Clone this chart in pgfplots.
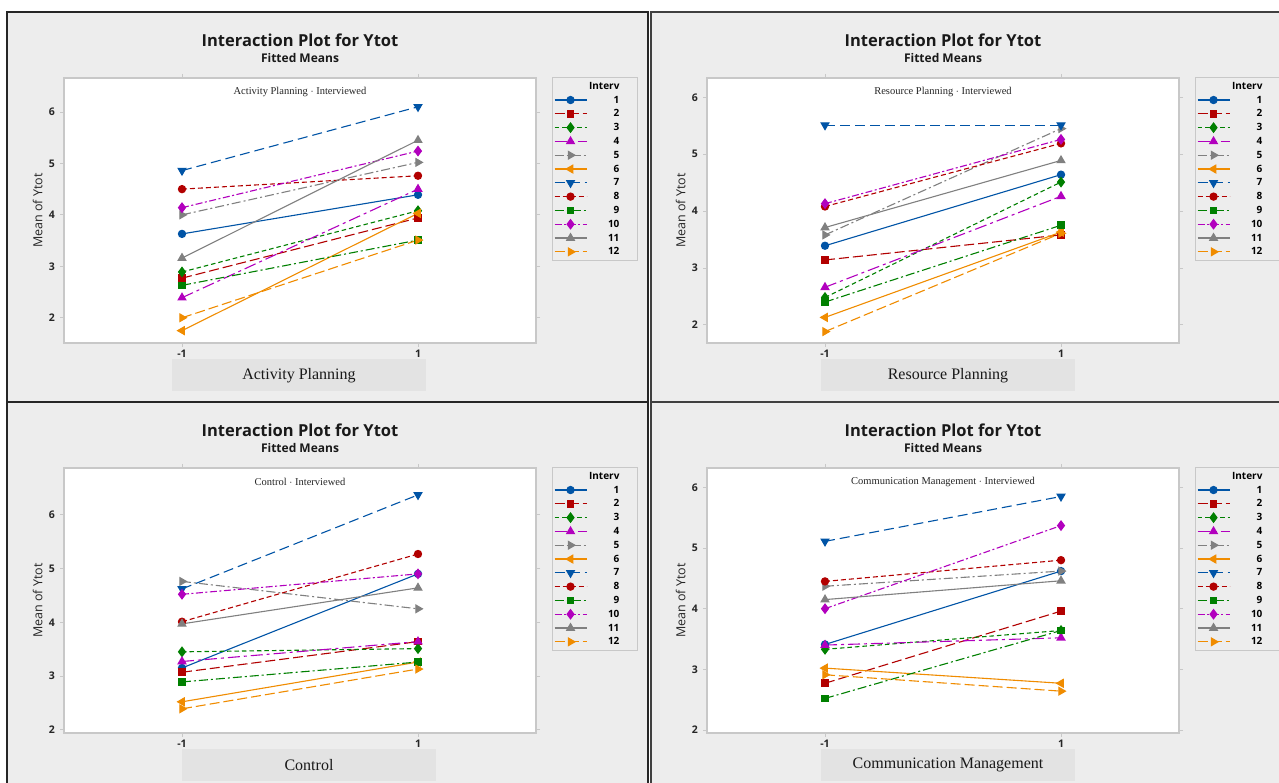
\documentclass[border=0pt]{standalone}
\usepackage{pgfplots}
\pgfplotsset{compat=1.18}
\usepackage{pgfplotstable}
\usepackage{fontspec}
\setmainfont{Liberation Serif}
\newfontfamily\sansf{Open Sans}
\newfontfamily\seriff{Liberation Serif}

\definecolor{cblue}{RGB}{0,84,166}
\definecolor{cred}{RGB}{178,0,0}
\definecolor{cgreen}{RGB}{0,128,0}
\definecolor{cmag}{RGB}{178,0,190}
\definecolor{cgray}{RGB}{128,128,128}
\definecolor{corange}{RGB}{240,140,0}
\definecolor{panelbg}{RGB}{237,237,237}
\definecolor{labelbg}{RGB}{227,227,227}
\definecolor{frameline}{RGB}{200,200,200}

% Activity Planning
\pgfplotstableread{
x s1 s2 s3 s4 s5 s6 s7 s8 s9 s10 s11 s12
-1 3.63 2.77 2.89 2.39 4.00 1.75 4.86 4.50 2.63 4.14 3.16 2.00
1 4.39 3.94 4.08 4.50 5.02 4.03 6.10 4.76 3.51 5.24 5.45 3.51
}\tAP
% Resource Planning
\pgfplotstableread{
x s1 s2 s3 s4 s5 s6 s7 s8 s9 s10 s11 s12
-1 3.39 3.14 2.48 2.66 3.58 2.13 5.51 4.08 2.40 4.13 3.71 1.88
1 4.64 3.58 4.51 4.26 5.45 3.63 5.51 5.19 3.75 5.26 4.89 3.61
}\tRP
% Control
\pgfplotstableread{
x s1 s2 s3 s4 s5 s6 s7 s8 s9 s10 s11 s12
-1 3.15 3.07 3.45 3.27 4.76 2.52 4.62 4.01 2.89 4.52 3.97 2.39
1 4.90 3.64 3.51 3.64 4.25 3.26 6.37 5.27 3.26 4.90 4.64 3.13
}\tCO
% Communication Management
\pgfplotstableread{
x s1 s2 s3 s4 s5 s6 s7 s8 s9 s10 s11 s12
-1 3.41 2.77 3.33 3.40 4.37 3.02 5.11 4.45 2.52 4.00 4.15 2.91
1 4.62 3.96 3.64 3.52 4.62 2.77 5.85 4.80 3.64 5.37 4.46 2.64
}\tCM

\pgfplotsset{
  s1/.style={cblue, solid, mark=*, mark size=3.6pt, mark options={solid}},
  s2/.style={cred, dash pattern=on 10pt off 4pt, mark=square*, mark size=3.3pt, mark options={solid}},
  s3/.style={cgreen, dash pattern=on 4.5pt off 3pt, mark=diamond*, mark size=4.6pt, mark options={solid}},
  s4/.style={cmag, dash pattern=on 12pt off 4pt on 3pt off 4pt, mark=triangle*, mark size=4.4pt, mark options={solid}},
  s5/.style={cgray, dash pattern=on 9pt off 3pt on 2pt off 3pt, mark=triangle*, mark size=4.4pt, mark options={solid, rotate=-90}},
  s6/.style={corange, solid, mark=triangle*, mark size=4.4pt, mark options={solid, rotate=90}},
  s7/.style={cblue, dash pattern=on 10pt off 5pt, mark=triangle*, mark size=4.4pt, mark options={solid, rotate=180}},
  s8/.style={cred, dash pattern=on 5pt off 3pt, mark=*, mark size=3.6pt, mark options={solid}},
  s9/.style={cgreen, dash pattern=on 9pt off 3pt on 2pt off 3pt, mark=square*, mark size=3.3pt, mark options={solid}},
  s10/.style={cmag, dash pattern=on 7pt off 2.5pt on 2pt off 2.5pt, mark=diamond*, mark size=4.6pt, mark options={solid}},
  s11/.style={cgray, solid, mark=triangle*, mark size=4.4pt, mark options={solid}},
  s12/.style={corange, dash pattern=on 10pt off 4pt, mark=triangle*, mark size=4.4pt, mark options={solid, rotate=-90}},
  panel/.style={
    scale only axis, width=472pt, height=265pt, anchor=north west,
    xmin=-2, xmax=2, xtick={-1,1}, ytick={2,3,4,5,6},
    axis line style={frameline, line width=1.2pt},
    tick style={frameline, line width=0.8pt},
    tick align=outside, major tick length=4pt,
    axis background/.style={fill=white},
    /pgf/number format/assume math mode=true,
    tick label style={font=\sansf\bfseries\fontsize{10.5}{12}\selectfont, text=black!85},
    yticklabel style={inner sep=0pt, xshift=-5pt},
    xticklabel style={inner sep=0pt, yshift=-3pt},
    ylabel={Mean of Ytot},
    ylabel style={at={(axis description cs:-0.056,0.5)}, anchor=center,
      font=\sansf\fontsize{12.5}{14}\selectfont, text=black!85},
    xlabel style={at={(axis description cs:0.5,0)}, anchor=north, yshift=-16pt,
      fill=labelbg, draw=none, minimum width=254pt, minimum height=32pt, inner sep=0pt,
      font=\seriff\fontsize{16}{18}\selectfont, text=black!90},
    clip=false,
    every axis plot/.append style={line width=1.1pt},
    legend cell align=right,
    legend style={at={(axis description cs:1.033,1.004)}, anchor=north west,
      draw=frameline, fill=panelbg, line width=0.8pt,
      font=\sansf\bfseries\fontsize{10}{11}\selectfont,
      row sep=0pt, inner xsep=2pt, inner ysep=2pt,
      nodes={text height=7pt, text depth=1pt, inner ysep=2.9pt, inner xsep=2pt}},
    legend image code/.code={\draw[mark repeat=2,mark phase=2,##1] plot coordinates {(0pt,0pt) (16pt,0pt) (32pt,0pt)};},
    legend entries={Interv\hspace*{14pt},1\hspace*{14pt},2\hspace*{14pt},3\hspace*{14pt},4\hspace*{14pt},5\hspace*{14pt},6\hspace*{14pt},7\hspace*{14pt},8\hspace*{14pt},9\hspace*{14pt},10\hspace*{14pt},11\hspace*{14pt},12\hspace*{14pt}},
  }
}

\newcommand{\panel}[8]{%
\begin{axis}[panel, at={(#1pt,#2pt)}, ymin=#4, ymax=#5, xlabel={#7}, xlabel style={xshift=#8pt}]
\addlegendimage{empty legend}
\addplot[s1] table[x=x,y=s1]{#3};
\addplot[s2] table[x=x,y=s2]{#3};
\addplot[s3] table[x=x,y=s3]{#3};
\addplot[s4] table[x=x,y=s4]{#3};
\addplot[s5] table[x=x,y=s5]{#3};
\addplot[s6] table[x=x,y=s6]{#3};
\addplot[s7] table[x=x,y=s7]{#3};
\addplot[s8] table[x=x,y=s8]{#3};
\addplot[s9] table[x=x,y=s9]{#3};
\addplot[s10] table[x=x,y=s10]{#3};
\addplot[s11] table[x=x,y=s11]{#3};
\addplot[s12] table[x=x,y=s12]{#3};
\node[font=\seriff\fontsize{10.5}{12}\selectfont, text=black!85, yshift=-14pt] at (rel axis cs:0.5,1) {#6};
\node[font=\sansf\bfseries\fontsize{16.5}{19}\selectfont, text=black!90, yshift=38pt] at (rel axis cs:0.5,1) {Interaction Plot for Ytot};
\node[font=\sansf\bfseries\fontsize{12}{14}\selectfont, text=black!90, yshift=20pt] at (rel axis cs:0.5,1) {Fitted Means};
\end{axis}}

\begin{document}
\begin{tikzpicture}[x=1pt,y=1pt]
\useasboundingbox (0,0) rectangle (1279,783);
\clip (0,0) rectangle (1279,783);
\fill[white] (0,0) rectangle (1279,783);
\filldraw[fill=panelbg, draw=black!85, line width=1.8pt] (7,371) rectangle (648,771);
\filldraw[fill=panelbg, draw=black!75, line width=2.5pt] (651,371) rectangle (1295,771);
\filldraw[fill=panelbg, draw=black!85, line width=1.8pt] (7,-20) rectangle (648,381);
\filldraw[fill=panelbg, draw=black!75, line width=2.5pt] (651,-20) rectangle (1295,381);
\panel{64}{705}{\tAP}{1.51}{6.66}{Activity Planning $\cdot$ Interviewed}{Activity Planning}{-1}
\panel{707}{705}{\tRP}{1.68}{6.34}{Resource Planning $\cdot$ Interviewed}{Resource Planning}{5}
\panel{64}{315}{\tCO}{1.94}{6.87}{Control $\cdot$ Interviewed}{Control}{9}
\panel{707}{315}{\tCM}{1.95}{6.32}{Communication Management $\cdot$ Interviewed}{Communication Management}{5}
\end{tikzpicture}
\end{document}
